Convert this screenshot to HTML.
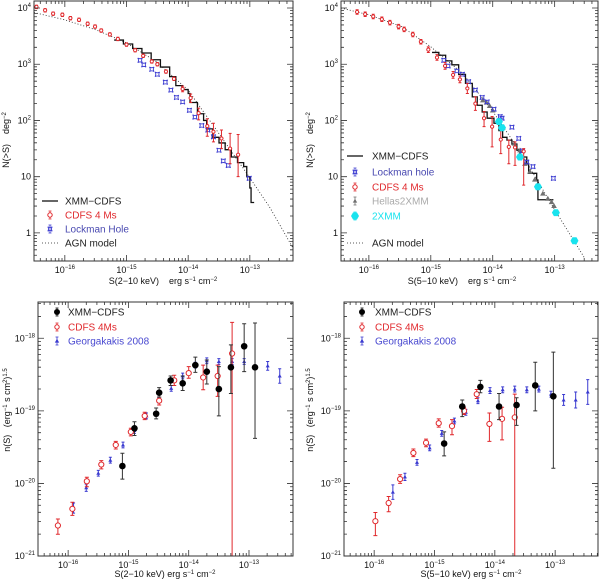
<!DOCTYPE html>
<html><head><meta charset="utf-8"><style>
html,body{margin:0;padding:0;background:#fff;width:600px;height:581px;overflow:hidden;}
svg{display:block;font-family:"Liberation Sans",sans-serif;}
</style></head><body>
<svg id="fig" width="600" height="581" viewBox="0 0 600 581" xmlns="http://www.w3.org/2000/svg">
<rect width="600" height="581" fill="#fff"/>
<g font-size="9" fill="#111">
<text transform="translate(9,140) rotate(-90)" text-anchor="middle">N(&gt;S)&#160;&#160;&#160;&#160;deg<tspan dy="-3" font-size="6">−2</tspan></text>
<text transform="translate(313,140) rotate(-90)" text-anchor="middle">N(&gt;S)&#160;&#160;&#160;&#160;deg<tspan dy="-3" font-size="6">−2</tspan></text>
<text transform="translate(10,410) rotate(-90)" text-anchor="middle">n(S)&#160;&#160;&#160;(erg<tspan dy="-3" font-size="6">−1</tspan><tspan dy="3"> s cm</tspan><tspan dy="-3" font-size="6">2</tspan><tspan dy="3">)</tspan><tspan dy="-3" font-size="6">1.5</tspan></text>
<text transform="translate(313,410) rotate(-90)" text-anchor="middle">n(S)&#160;&#160;&#160;(erg<tspan dy="-3" font-size="6">−1</tspan><tspan dy="3"> s cm</tspan><tspan dy="-3" font-size="6">2</tspan><tspan dy="3">)</tspan><tspan dy="-3" font-size="6">1.5</tspan></text>
<text x="163" y="284" text-anchor="middle">S(2−10 keV)&#160;&#160;&#160;&#160;erg s<tspan dy="-3" font-size="6">−1</tspan><tspan dy="3"> cm</tspan><tspan dy="-3" font-size="6">−2</tspan></text>
<text x="462" y="284" text-anchor="middle">S(5−10 keV)&#160;&#160;&#160;&#160;erg s<tspan dy="-3" font-size="6">−1</tspan><tspan dy="3"> cm</tspan><tspan dy="-3" font-size="6">−2</tspan></text>
<text x="165" y="577" text-anchor="middle">S(2−10 keV) erg s<tspan dy="-3" font-size="6">−1</tspan><tspan dy="3"> cm</tspan><tspan dy="-3" font-size="6">−2</tspan></text>
<text x="471" y="577" text-anchor="middle">S(5−10 keV) erg s<tspan dy="-3" font-size="6">−1</tspan><tspan dy="3"> cm</tspan><tspan dy="-3" font-size="6">−2</tspan></text>
</g>
</svg>
<script>
// ---------- data (log10 values) ----------
const p1CdfsLogS=[-16.46,-16.32,-16.19,-16.04,-15.91,-15.77,-15.63,-15.51,-15.41,-15.27,-15.14,-15.0,-14.86,-14.73,-14.59,-14.5,-14.36,-14.23,-14.09,-13.96,-13.83,-13.69,-13.59,-13.46,-13.32,-13.19];
const p1CdfsLogN=[4.02,3.96,3.9,3.88,3.82,3.79,3.72,3.67,3.6,3.53,3.45,3.35,3.25,3.15,3.05,3.0,2.87,2.74,2.56,2.4,2.13,1.9,1.8,1.68,1.5,1.39];
const p1CdfsErrUp=[.03,.03,.03,.03,.03,.03,.03,.03,.03,.03,.03,.03,.03,.03,.03,.03,.03,.03,.05,.07,.09,.13,.15,.15,.27,.36];
const p1CdfsErrDn=[.03,.03,.03,.03,.03,.03,.03,.03,.03,.03,.03,.03,.03,.03,.03,.03,.03,.03,.05,.08,.12,.18,.18,.18,.27,.39];
const p1LockLogS=[-14.78,-14.72,-14.59,-14.5,-14.37,-14.28,-14.19,-14.09,-13.98,-13.89,-13.78,-13.68,-13.59,-13.5,-13.43,-13.35,-13.01];
const p1LockLogN=[3.07,2.99,2.91,2.82,2.68,2.54,2.41,2.33,2.18,2.06,1.91,1.83,1.71,1.47,1.28,1.2,0.97];
const p1XmmLogS=[-15.2,-15.05,-14.9,-14.75,-14.6,-14.45,-14.3,-14.2,-14.1,-14.0,-13.97,-13.85,-13.75,-13.7,-13.6,-13.5,-13.4,-13.3,-13.2,-13.1,-13.05,-13.0,-12.98,-12.93];
const p1XmmLogN=[3.43,3.36,3.28,3.2,3.08,2.95,2.78,2.62,2.55,2.48,2.32,2.12,2.0,1.85,1.7,1.6,1.48,1.35,1.25,1.18,1.0,0.8,0.54,0.54];
const p1ModelLogS=[-16.5,-16,-15.49,-15,-14.51,-14,-13.49,-13,-12.68,-12.31];
const p1ModelLogN=[3.92,3.79,3.61,3.38,3.04,2.54,1.75,0.98,0.46,-0.25];

const p2CdfsLogS=[-16.19,-16.06,-15.93,-15.79,-15.66,-15.52,-15.43,-15.29,-15.16,-15.04,-14.9,-14.77,-14.64,-14.53,-14.41,-14.28,-14.14,-14.01,-13.87,-13.74,-13.64,-13.5];
const p2CdfsLogN=[3.93,3.89,3.85,3.8,3.74,3.67,3.62,3.53,3.4,3.26,3.12,2.97,2.81,2.73,2.57,2.3,2.04,1.89,1.66,1.53,1.52,1.45];
const p2CdfsErrUp=[.04,.04,.04,.04,.04,.04,.04,.04,.04,.05,.05,.06,.06,.06,.09,.12,.12,.18,.26,.12,.1,.05];
const p2CdfsErrDn=[.04,.04,.04,.04,.04,.04,.04,.04,.04,.05,.05,.06,.06,.06,.09,.12,.15,.36,.25,.3,.32,.6];
const p2LockLogS=[-14.79,-14.72,-14.58,-14.49,-14.39,-14.28,-14.17,-14.09,-13.98,-13.88,-13.85,-13.69,-13.58,-13.52,-13.45,-13.35,-13.02];
const p2LockLogN=[3.07,2.97,2.88,2.82,2.69,2.54,2.41,2.33,2.2,2.07,2.04,1.88,1.68,1.46,1.26,1.18,0.97];
const p2HellasLogS=[-14.16,-14.1,-14.05,-14.0,-13.65,-13.56,-13.48,-13.4,-13.32,-13.19,-13.11,-13.05,-13.01];
const p2HellasLogN=[2.36,2.32,2.26,2.18,1.59,1.47,1.23,1.09,0.95,0.7,0.61,0.55,0.48];
const p2XmmSerLogS=[-13.9,-13.85,-13.56,-13.27,-12.98,-12.68];
const p2XmmSerLogN=[1.98,1.87,1.35,0.82,0.36,-0.14];
const p2XmmLogS=[-14.98,-14.87,-14.76,-14.66,-14.55,-14.44,-14.33,-14.25,-14.17,-14.09,-13.98,-13.9,-13.84,-13.77,-13.69,-13.61,-13.56,-13.45,-13.42,-13.29,-13.27,-13.02];
const p2XmmLogN=[3.21,3.16,3.06,2.99,2.82,2.66,2.42,2.27,2.15,2.04,1.95,1.82,1.7,1.65,1.58,1.47,1.35,1.23,1.06,0.94,0.59,0.59];
const p2ModelLogS=[-16.45,-16,-15.47,-15,-14.49,-14.01,-13.53,-13.02,-12.51];
const p2ModelLogN=[4.0,3.88,3.67,3.31,2.84,2.18,1.4,0.45,-0.46];

const p3XmmLogS=[-15.1,-14.9,-14.54,-14.49,-14.3,-14.1,-13.89,-13.7,-13.5,-13.3,-13.08,-12.9];
const p3XmmLogN=[-19.76,-19.24,-19.04,-18.75,-18.58,-18.62,-18.37,-18.46,-18.7,-18.4,-18.11,-18.4];
const p3XmmErrUp=[.175,.09,.08,.07,.06,.1,.11,.16,.31,.31,.31,.61];
const p3XmmErrDn=[.18,.1,.07,.06,.07,.1,.1,.17,.37,.36,.35,.98];
const p3CdfsLogS=[-16.17,-15.93,-15.69,-15.45,-15.21,-14.96,-14.73,-14.49,-14.24,-14.0,-13.76,-13.52,-13.28];
const p3CdfsLogN=[-20.58,-20.35,-19.97,-19.74,-19.47,-19.29,-19.07,-18.86,-18.58,-18.48,-18.54,-18.52,-18.21];
const p3CdfsErrUp=[.09,.09,.055,.055,.05,.05,.05,.05,.07,.09,.17,.15,.43];
const p3CdfsErrDn=[.12,.09,.075,.06,.055,.055,.05,.06,.07,.07,.17,.28,3];
const p3GeoLogS=[-15.91,-15.7,-15.5,-15.3,-15.09,-14.9,-14.7,-14.5,-14.29,-14.1,-13.89,-13.7,-13.5,-13.28,-13.08,-12.69,-12.49];
const p3GeoLogN=[-20.34,-20.06,-19.86,-19.68,-19.47,-19.27,-19.07,-18.85,-18.69,-18.52,-18.37,-18.31,-18.32,-18.32,-18.32,-18.38,-18.52];
const p3GeoErr=[.07,.05,.04,.04,.04,.04,.04,.04,.04,.04,.04,.04,.04,.04,.04,.06,.1];

const p4XmmLogS=[-14.84,-14.54,-14.24,-13.93,-13.64,-13.33,-13.03];
const p4XmmLogN=[-19.45,-18.94,-18.67,-18.94,-18.92,-18.65,-18.8];
const p4XmmErrUp=[.16,.09,.09,.18,.1,.32,.61];
const p4XmmErrDn=[.17,.14,.08,.18,.28,.35,.99];
const p4CdfsLogS=[-15.98,-15.76,-15.57,-15.35,-15.14,-14.93,-14.71,-14.51,-14.3,-14.09,-13.88,-13.67];
const p4CdfsLogN=[-20.52,-20.27,-19.94,-19.58,-19.44,-19.17,-19.21,-19.0,-18.77,-19.18,-19.11,-19.09];
const p4CdfsErrUp=[.12,.09,.06,.055,.05,.06,.09,.05,.065,.15,.16,.32];
const p4CdfsErrDn=[.2,.12,.06,.05,.055,.055,.12,.05,.06,.24,.29,3];
const p4GeoLogS=[-15.69,-15.49,-15.29,-15.08,-14.88,-14.67,-14.48,-14.28,-14.08,-13.87,-13.67,-13.47,-13.27,-13.07,-12.86,-12.66,-12.46];
const p4GeoLogN=[-20.12,-19.91,-19.71,-19.51,-19.31,-19.14,-19.02,-18.86,-18.72,-18.71,-18.7,-18.71,-18.7,-18.77,-18.85,-18.85,-18.74];
const p4GeoErr=[.1,.05,.04,.04,.04,.04,.04,.04,.04,.04,.04,.04,.04,.04,.075,.11,.17];

const topYTicks=["1","10","102","103","104"];
const xTickExp=["−16","−15","−14","−13"];
const botYTickExp=["−21","−20","−19","−18"];

// ---------- rendering ----------
const NS="http://www.w3.org/2000/svg";
const svg=document.getElementById('fig');
const RED="#e0282c",BLUE="#3a3ad0",CYAN="#19e3ee",GRAY="#707070";
function mk(tag,attrs,parent){const e=document.createElementNS(NS,tag);for(const k in attrs)e.setAttribute(k,attrs[k]);(parent||svg).appendChild(e);return e;}

function makePanel(x0,y0,x1,y1,lx0,lx1,ly0,ly1,name){
  const P={x0,y0,x1,y1,lx0,lx1,ly0,ly1};
  P.sx=l=>x0+(l-lx0)/(lx1-lx0)*(x1-x0);
  P.sy=l=>y1-(l-ly0)/(ly1-ly0)*(y1-y0);
  P.g=mk('g',{});
  
  
  const clip=mk('clipPath',{id:name+'-clip'});
  mk('rect',{x:x0,y:y0,width:x1-x0,height:y1-y0},clip);
  P.clip='url(#'+name+'-clip)';
  P.data=mk('g',{'clip-path':P.clip},P.g);
  
  
  const fr=mk('rect',{x:x0,y:y0,width:x1-x0,height:y1-y0,fill:'none',stroke:'#333','stroke-width':1},P.g);
  
  
  let d='';
  for(let e=Math.floor(lx0);e<=Math.ceil(lx1);e++){for(let k=1;k<10;k++){const l=e+Math.log10(k);if(l<lx0||l>lx1)continue;const x=P.sx(l),len=k===1?6:3;d+=`M${x},${y1}v${-len}M${x},${y0}v${len}`;}}
  for(let e=Math.floor(ly0);e<=Math.ceil(ly1);e++){for(let k=1;k<10;k++){const l=e+Math.log10(k);if(l<ly0||l>ly1)continue;const y=P.sy(l),len=k===1?6:3;d+=`M${x0},${y}h${len}M${x1},${y}h${-len}`;}}
  const t=mk('path',{d,stroke:'#333','stroke-width':0.8,fill:'none'},P.g);
  
  
  return P;
}
function xLabels(P,name){
  for(let i=0;i<xTickExp.length;i++){
    const tx=mk('text',{x:P.sx(-16+i),y:P.y1+12,'text-anchor':'middle','font-size':9,fill:'#111'},P.g);
    
    
    tx.textContent='10';
    const s=mk('tspan',{dy:-4,'font-size':6},tx);s.textContent=xTickExp[i];
  }
}
function errBars(P,xs,ys,up,dn,color,cap,name){
  for(let i=0;i<xs.length;i++){
    const x=P.sx(xs[i]),ya=P.sy(ys[i]+up[i]),yb=P.sy(ys[i]-dn[i]);
    const p=mk('path',{d:`M${x},${ya}V${yb}M${x-cap},${ya}h${2*cap}M${x-cap},${yb}h${2*cap}`,stroke:color,'stroke-width':1,fill:'none'},P.data);
    
    
  }
}
function marker(parent,type,x,y,color,s){
  let e;
  if(type==='ocirc')e=mk('circle',{cx:x,cy:y,r:s,fill:'#fff',stroke:color,'stroke-width':1},parent);
  else if(type==='fcirc')e=mk('circle',{cx:x,cy:y,r:s,fill:color},parent);
  else if(type==='tri')e=mk('path',{d:`M${x},${y-s}L${x+s},${y+s*0.75}L${x-s},${y+s*0.75}Z`,fill:color},parent);
  else if(type==='hex'){let d='';for(let k=0;k<6;k++){const a=Math.PI/3*k;d+=(k?'L':'M')+(x+s*Math.cos(a))+','+(y+s*Math.sin(a));}e=mk('path',{d:d+'Z',fill:color},parent);}
  else if(type==='star'){const a=s,b=s*0.35;e=mk('path',{d:`M${x-a},${y-a}Q${x},${y-b} ${x+a},${y-a}Q${x+b},${y} ${x+a},${y+a}Q${x},${y+b} ${x-a},${y+a}Q${x-b},${y} ${x-a},${y-a}Z`,fill:'none',stroke:color,'stroke-width':0.9},parent);}
  return e;
}
function points(P,xs,ys,type,color,s,name){
  for(let i=0;i<xs.length;i++){
    const m=marker(P.data,type,P.sx(xs[i]),P.sy(ys[i]),color,s);
    
    
  }
}
function stepLine(P,xs,ys,name){
  let d=`M${P.sx(xs[0])},${P.sy(ys[0])}`;
  for(let i=1;i<xs.length;i++)d+=`H${P.sx(xs[i])}V${P.sy(ys[i])}`;
  const p=mk('path',{d,stroke:'#111','stroke-width':1.3,fill:'none'},P.data);
  
  
}
function dotLine(P,xs,ys,name){
  const pts=xs.map((x,i)=>P.sx(x)+','+P.sy(ys[i])).join(' ');
  const p=mk('polyline',{points:pts,stroke:'#222','stroke-width':0.8,fill:'none','stroke-dasharray':'1,2'},P.data);
  
  
}
function legendEntry(P,y,x0,tx,kind,color,textColor,label,name){
  const g=mk('g',{},P.g);
  
  
  if(kind==='line')mk('path',{d:`M${x0},${y}h16`,stroke:'#333','stroke-width':1.5},g);
  else if(kind==='dot')mk('path',{d:`M${x0},${y}h16`,stroke:'#222','stroke-width':0.8,'stroke-dasharray':'1,2'},g);
  else{const cx=kind.startsWith('b')?x0:x0+8;const t=kind.replace(/^b/,'');
    mk('path',{d:`M${cx},${y-4}V${y+4}M${cx-1.5},${y-4}h3M${cx-1.5},${y+4}h3`,stroke:color,'stroke-width':0.8},g);
    marker(g,t,cx,y,color,t==='fcirc'?3:t==='hex'?4:2.2);}
  const t=mk('text',{x:tx,y:y+3.5,'font-size':10,fill:textColor},g);t.textContent=label;
}

// Panel 1
const P1=makePanel(34,1,293,261,-16.5,-12.3,-0.5,4.125,'panel-top-left');
xLabels(P1,'panel-top-left');
dotLine(P1,p1ModelLogS,p1ModelLogN,'agn-model-line');
stepLine(P1,p1XmmLogS,p1XmmLogN,'xmm-cdfs-line');
points(P1,p1LockLogS,p1LockLogN,'star',BLUE,2.3,'lockman');
errBars(P1,p1CdfsLogS,p1CdfsLogN,p1CdfsErrUp,p1CdfsErrDn,RED,1.5,'cdfs');
points(P1,p1CdfsLogS,p1CdfsLogN,'ocirc',RED,1.6,'cdfs');
// Panel 2
const P2=makePanel(341,1,598,261,-16.45,-12.3,-0.5,4.125,'panel-top-right');
xLabels(P2,'panel-top-right');
dotLine(P2,p2ModelLogS,p2ModelLogN,'agn-model-line');
stepLine(P2,p2XmmLogS,p2XmmLogN,'xmm-cdfs-line');
points(P2,p2HellasLogS,p2HellasLogN,'tri',GRAY,2.8,'hellas2xmm');
points(P2,p2LockLogS,p2LockLogN,'star',BLUE,2.3,'lockman');
errBars(P2,p2CdfsLogS,p2CdfsLogN,p2CdfsErrUp,p2CdfsErrDn,RED,1.5,'cdfs');
points(P2,p2CdfsLogS,p2CdfsLogN,'ocirc',RED,1.6,'cdfs');
points(P2,p2XmmSerLogS,p2XmmSerLogN,'hex',CYAN,4,'2xmm');
// top y labels
[P1,P2].forEach((P,j)=>{for(let i=0;i<topYTicks.length;i++){const t=mk('text',{x:P.x0-3,y:P.sy(i)+3,'text-anchor':'end','font-size':9,fill:'#111'},P.g);
  
  
  const s=topYTicks[i];if(s.length>2){t.textContent='10';const sp=mk('tspan',{dy:-4,'font-size':6},t);sp.textContent=s.slice(2);}else t.textContent=s;}});
// Panel 3
const P3=makePanel(38,302,293,556,-16.5,-12.27,-21,-17.5,'panel-bottom-left');
xLabels(P3,'panel-bottom-left');
errBars(P3,p3GeoLogS,p3GeoLogN,p3GeoErr,p3GeoErr,BLUE,1.5,'georgakakis');
points(P3,p3GeoLogS,p3GeoLogN,'tri',BLUE,2,'georgakakis');
errBars(P3,p3CdfsLogS,p3CdfsLogN,p3CdfsErrUp,p3CdfsErrDn,RED,2,'cdfs');
points(P3,p3CdfsLogS,p3CdfsLogN,'ocirc',RED,2.6,'cdfs');
errBars(P3,p3XmmLogS,p3XmmLogN,p3XmmErrUp,p3XmmErrDn,'#333',2,'xmm-cdfs');
points(P3,p3XmmLogS,p3XmmLogN,'fcirc','#000',3.3,'xmm-cdfs');
// Panel 4
const P4=makePanel(344,302,598,556,-16.5,-12.29,-21,-17.5,'panel-bottom-right');
xLabels(P4,'panel-bottom-right');
errBars(P4,p4GeoLogS,p4GeoLogN,p4GeoErr,p4GeoErr,BLUE,1.5,'georgakakis');
points(P4,p4GeoLogS,p4GeoLogN,'tri',BLUE,2,'georgakakis');
errBars(P4,p4CdfsLogS,p4CdfsLogN,p4CdfsErrUp,p4CdfsErrDn,RED,2,'cdfs');
points(P4,p4CdfsLogS,p4CdfsLogN,'ocirc',RED,2.6,'cdfs');
errBars(P4,p4XmmLogS,p4XmmLogN,p4XmmErrUp,p4XmmErrDn,'#333',2,'xmm-cdfs');
points(P4,p4XmmLogS,p4XmmLogN,'fcirc','#000',3.3,'xmm-cdfs');
[P3,P4].forEach(P=>{for(let i=0;i<botYTickExp.length;i++){const t=mk('text',{x:P.x0-3,y:P.sy(-21+i)+3,'text-anchor':'end','font-size':9,fill:'#111'},P.g);
  
  
  t.textContent='10';const sp=mk('tspan',{dy:-4,'font-size':6},t);sp.textContent=botYTickExp[i];}});

// Legends
legendEntry(P1,201,42,65,'line','#333','#222','XMM−CDFS','legend-xmm-cdfs');
legendEntry(P1,215,42,65,'ocirc',RED,RED,'CDFS 4 Ms','legend-cdfs');
legendEntry(P1,229,42,65,'star',BLUE,'#4848b0','Lockman Hole','legend-lockman');
legendEntry(P1,243,42,65,'dot','#222','#222','AGN model','legend-agn-model');
legendEntry(P2,156,347,372,'line','#333','#222','XMM−CDFS','legend-xmm-cdfs');
legendEntry(P2,172,347,372,'star',BLUE,'#4848b0','Lockman hole','legend-lockman');
legendEntry(P2,187,347,372,'ocirc',RED,RED,'CDFS 4 Ms','legend-cdfs');
legendEntry(P2,201,347,372,'tri',GRAY,'#aaa','Hellas2XMM','legend-hellas2xmm');
legendEntry(P2,216,347,372,'hex',CYAN,CYAN,'2XMM','legend-2xmm');
legendEntry(P2,243,347,372,'dot','#222','#222','AGN model','legend-agn-model');
legendEntry(P3,312,57,68,'bfcirc','#000','#222','XMM−CDFS','legend-xmm-cdfs');
legendEntry(P3,327,57,68,'bocirc',RED,RED,'CDFS 4Ms','legend-cdfs');
legendEntry(P3,341,57,68,'btri',BLUE,'#4848d0','Georgakakis 2008','legend-georgakakis');
legendEntry(P4,312,362,375,'bfcirc','#000','#222','XMM−CDFS','legend-xmm-cdfs');
legendEntry(P4,327,362,375,'bocirc',RED,RED,'CDFS 4Ms','legend-cdfs');
legendEntry(P4,341,362,375,'btri',BLUE,'#4848d0','Georgakakis 2008','legend-georgakakis');
</script>
</body></html>
